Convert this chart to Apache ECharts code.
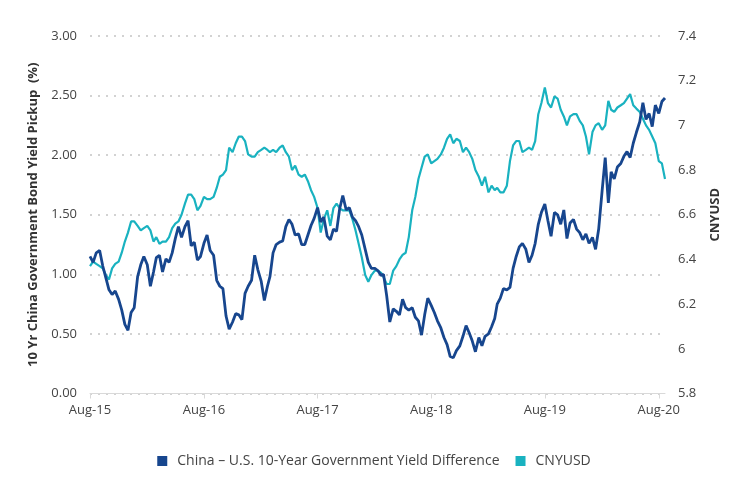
<!DOCTYPE html>
<html>
<head>
<meta charset="utf-8">
<script src="https://cdn.jsdelivr.net/npm/echarts@6/dist/echarts.min.js"></script>
<style>
html,body{margin:0;padding:0;background:#fff;}
#chart{width:748px;height:496px;}
</style>
</head>
<body>
<div id="chart"></div>
<script>
// Sampling grid: days 1, 11 and 21 of each month from Aug 2015 to Aug 2020
const startYear = 2015, startMonth = 8, samplesPerMonthDays = [1, 11, 21], sampleCount = 183;
const xTickLabels = ['Aug-15', 'Aug-16', 'Aug-17', 'Aug-18', 'Aug-19', 'Aug-20'];
const xTickDates = ['2015-08-01', '2016-08-01', '2017-08-01', '2018-08-01', '2019-08-01', '2020-08-01'];

// China – U.S. 10-Year Government Yield Difference (%), left axis
const yieldDiff = [
1.15,1.10,1.18,1.20,1.07,0.97,0.87,0.83,0.86,0.79,0.70,0.58,0.53,0.68,0.72,0.98,1.08,1.15,1.08,0.90,
1.02,1.14,1.16,1.02,1.13,1.10,1.18,1.30,1.40,1.31,1.40,1.45,1.24,1.27,1.12,1.15,1.26,1.33,1.20,1.16,
0.95,0.90,0.88,0.65,0.54,0.60,0.67,0.66,0.62,0.84,0.90,0.95,1.16,1.04,0.94,0.78,0.90,0.98,1.18,1.25,
1.27,1.28,1.40,1.46,1.42,1.33,1.34,1.25,1.25,1.33,1.41,1.47,1.56,1.44,1.48,1.32,1.29,1.38,1.36,1.55,
1.66,1.54,1.56,1.48,1.45,1.40,1.33,1.21,1.10,1.05,1.05,1.03,0.99,1.00,0.82,0.60,0.71,0.69,0.66,0.79,
0.72,0.70,0.72,0.64,0.61,0.49,0.66,0.80,0.74,0.68,0.61,0.55,0.47,0.41,0.31,0.30,0.36,0.40,0.48,0.57,
0.51,0.44,0.35,0.47,0.40,0.48,0.50,0.56,0.63,0.75,0.80,0.88,0.87,0.89,1.05,1.15,1.23,1.26,1.21,1.10,
1.16,1.26,1.42,1.52,1.59,1.45,1.32,1.52,1.50,1.42,1.54,1.30,1.43,1.46,1.38,1.35,1.29,1.34,1.26,1.31,
1.21,1.38,1.70,1.98,1.60,1.86,1.80,1.90,1.93,1.99,2.03,1.98,2.10,2.19,2.28,2.44,2.30,2.35,2.24,2.42,
2.35,2.45,2.48
];

// CNYUSD, right axis
const cnyusd = [
6.37,6.39,6.38,6.37,6.36,6.33,6.31,6.36,6.38,6.39,6.43,6.48,6.52,6.57,6.57,6.55,6.53,6.54,6.55,6.53,
6.48,6.50,6.47,6.48,6.48,6.50,6.54,6.56,6.57,6.60,6.65,6.69,6.69,6.67,6.62,6.64,6.68,6.67,6.67,6.68,
6.72,6.77,6.78,6.80,6.90,6.88,6.92,6.95,6.95,6.93,6.87,6.86,6.86,6.88,6.89,6.90,6.89,6.88,6.89,6.88,
6.90,6.91,6.88,6.86,6.80,6.82,6.78,6.77,6.78,6.75,6.71,6.68,6.63,6.52,6.58,6.62,6.55,6.63,6.65,6.63,
6.62,6.62,6.62,6.58,6.53,6.47,6.41,6.33,6.30,6.33,6.35,6.35,6.34,6.32,6.29,6.29,6.35,6.37,6.40,6.42,
6.43,6.50,6.62,6.68,6.76,6.81,6.86,6.87,6.83,6.84,6.85,6.87,6.90,6.94,6.96,6.92,6.94,6.93,6.88,6.90,
6.88,6.85,6.80,6.77,6.73,6.77,6.70,6.73,6.71,6.72,6.70,6.70,6.73,6.84,6.91,6.93,6.93,6.88,6.89,6.90,
6.89,6.93,7.05,7.10,7.17,7.10,7.08,7.13,7.12,7.07,7.04,7.00,7.04,7.05,7.05,7.02,7.00,6.95,6.87,6.97,
7.00,7.01,6.98,7.00,7.11,7.07,7.06,7.08,7.09,7.10,7.12,7.14,7.09,7.075,7.06,7.03,7.00,6.98,6.95,6.92,
6.84,6.83,6.76
];

const seriesNames = ['China – U.S. 10-Year Government Yield Difference', 'CNYUSD'];
const leftAxisName = '10 Yr China Government Bond Yield Pickup  (%)';
const rightAxisName = 'CNYUSD';

function pad(n){ return (n < 10 ? '0' : '') + n; }
function ts(s){ const p = s.split('-'); return Date.UTC(+p[0], +p[1] - 1, +p[2]); }
const dates = [];
for (let k = 0; k < sampleCount; k++) {
  const mIdx = startMonth - 1 + Math.floor(k / samplesPerMonthDays.length);
  const y = startYear + Math.floor(mIdx / 12);
  const mo = (mIdx % 12) + 1;
  dates.push(y + '-' + pad(mo) + '-' + pad(samplesPerMonthDays[k % samplesPerMonthDays.length]));
}
const diffData = dates.map((d, i) => [ts(d), yieldDiff[i]]);
const cnyData = dates.map((d, i) => [ts(d), cnyusd[i]]);
const tickTs = xTickDates.map(ts);

const FONT = "'Open Sans', sans-serif";
const BLUE = '#17468e', CYAN = '#19b2c0';

const chart = echarts.init(document.getElementById('chart'), null, {renderer: 'canvas'});
chart.setOption({
  animation: false,
  backgroundColor: '#fff',
  textStyle: {fontFamily: FONT},
  grid: {left: 90, right: 83, top: 36, bottom: 102.5},
  legend: {
    data: seriesNames,
    bottom: 23,
    left: 'center',
    icon: 'rect',
    itemWidth: 10,
    itemHeight: 10,
    itemGap: 16,
    textStyle: {fontFamily: FONT, fontSize: 14, color: '#444', padding: [0, 0, 0, 5]}
  },
  xAxis: {
    type: 'value',
    min: ts(dates[0]),
    max: ts(dates[dates.length - 1]),
    axisLine: {show: true, onZero: false, lineStyle: {color: '#d9d9d9', width: 1}},
    axisTick: {show: true, length: 5, lineStyle: {color: '#d9d9d9'}, customValues: tickTs},
    axisLabel: {
      customValues: tickTs,
      showMinLabel: true, showMaxLabel: true,
      color: '#444', fontSize: 13, fontFamily: FONT, margin: 10,
      formatter: function (v) {
        const i = tickTs.indexOf(v);
        return i >= 0 ? xTickLabels[i] : '';
      }
    },
    splitLine: {show: false}
  },
  yAxis: [
    {
      type: 'value', min: 0, max: 3, interval: 0.5,
      name: leftAxisName, nameLocation: 'middle', nameRotate: 90, nameGap: 50,
      nameTextStyle: {fontFamily: FONT, fontSize: 13, fontWeight: 'bold', color: '#333'},
      axisLine: {show: false}, axisTick: {show: false},
      axisLabel: {color: '#444', fontSize: 13, fontFamily: FONT, margin: 13, formatter: v => v.toFixed(2)},
      splitLine: {show: true, lineStyle: {color: '#d2d2d2', width: 2, type: [2, 6]}}
    },
    {
      type: 'value', min: 5.8, max: 7.4, interval: 0.2, position: 'right',
      name: rightAxisName, nameLocation: 'middle', nameRotate: 90, nameGap: 44,
      nameTextStyle: {fontFamily: FONT, fontSize: 13, fontWeight: 'bold', color: '#333'},
      axisLine: {show: false}, axisTick: {show: false},
      axisLabel: {color: '#444', fontSize: 13, fontFamily: FONT, margin: 13,
        formatter: v => String(Math.round(v * 10) / 10)},
      splitLine: {show: false}
    }
  ],
  series: [
    {
      name: seriesNames[1], type: 'line', yAxisIndex: 1, data: cnyData,
      showSymbol: false, symbol: 'none', color: CYAN,
      lineStyle: {color: CYAN, width: 2.2}, z: 2
    },
    {
      name: seriesNames[0], type: 'line', yAxisIndex: 0, data: diffData,
      showSymbol: false, symbol: 'none', color: BLUE,
      lineStyle: {color: BLUE, width: 2.8}, z: 3
    }
  ]
});
</script>
</body>
</html>
